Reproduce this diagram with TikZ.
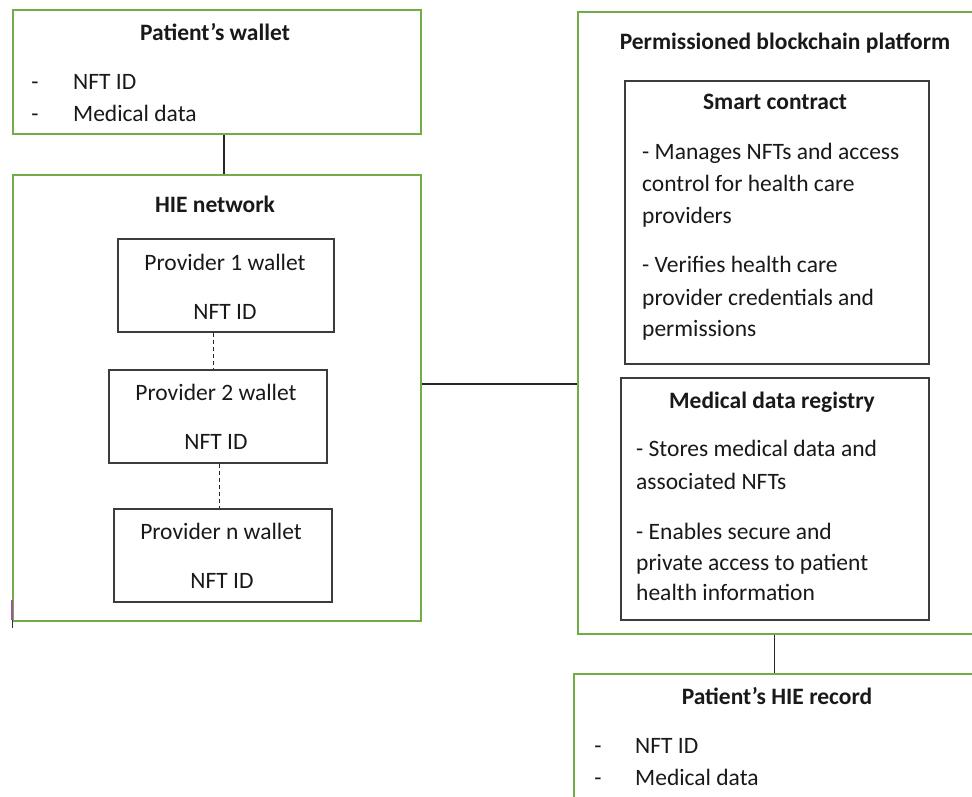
\documentclass[tikz,border=0pt]{standalone}
\usepackage{fontspec}
\setmainfont{Carlito}
\definecolor{boxgreen}{RGB}{112,173,71}
\definecolor{boxdark}{RGB}{60,60,60}
\definecolor{txt}{RGB}{25,25,25}
\begin{document}
\begin{tikzpicture}[x=1pt,y=-1pt,
  greenbox/.style={draw=boxgreen,line width=1.8pt,fill=none,inner sep=0,anchor=north west},
  darkbox/.style={draw=boxdark,line width=1.6pt,fill=none,inner sep=0,anchor=north west},
  bodytxt/.style={font=\fontsize{23.5}{32}\selectfont,text=txt,inner sep=0},
  titletxt/.style={font=\fontsize{23.5}{32}\selectfont\bfseries,text=txt,inner sep=0},
  link/.style={draw=black!85,line width=1.4pt},
  dlink/.style={draw=black!85,line width=1.3pt,dash pattern=on 4pt off 3pt}]
\useasboundingbox (0,0) rectangle (972,796);
\clip (0,0) rectangle (972,796);
\fill[white] (0,0) rectangle (972,796);

% Patient's wallet
\node[greenbox,minimum width=408,minimum height=124] (pw) at (12,9) {};
\node[titletxt,anchor=base] (pwt) at (215,40) {Patient’s wallet};
\node[bodytxt,anchor=base] (pwd1) at (35,89) {-};
\node[bodytxt,anchor=base west] (pwl1) at (73,89) {NFT ID};
\node[bodytxt,anchor=base] (pwd2) at (35,121) {-};
\node[bodytxt,anchor=base west] (pwl2) at (73,121) {Medical data};

% HIE network
\node[greenbox,minimum width=408,minimum height=446] (hie) at (12,174) {};
\node[titletxt,anchor=base] (hiet) at (215,212) {HIE network};
\draw[violet!70,line width=1.2pt] (12,600) -- (12,620);
\draw[black!80,line width=1pt] (12,620) -- (12,628);

\node[darkbox,minimum width=216,minimum height=93] (p1) at (117,238) {};
\node[bodytxt,anchor=base] (p1a) at (225,270) {Provider 1 wallet};
\node[bodytxt,anchor=base] (p1b) at (225,319) {NFT ID};

\node[darkbox,minimum width=218,minimum height=93] (p2) at (108,369) {};
\node[bodytxt,anchor=base] (p2a) at (216,400) {Provider 2 wallet};
\node[bodytxt,anchor=base] (p2b) at (216,449) {NFT ID};

\node[darkbox,minimum width=218,minimum height=93] (pn) at (113,508) {};
\node[bodytxt,anchor=base] (pna) at (221,539) {Provider n wallet};
\node[bodytxt,anchor=base] (pnb) at (222,588) {NFT ID};

% Platform
\node[greenbox,minimum width=420,minimum height=622] (plat) at (577,11) {};
\node[titletxt,anchor=base] (platt) at (785,49) {Permissioned blockchain platform};

\node[darkbox,minimum width=304,minimum height=283] (sc) at (624,80) {};
\node[titletxt,anchor=base] (sct) at (775,109) {Smart contract};
\node[bodytxt,anchor=base west] (sc1) at (642,159) {- Manages NFTs and access};
\node[bodytxt,anchor=base west] (sc2) at (642,191) {control for health care};
\node[bodytxt,anchor=base west] (sc3) at (642,223) {providers};
\node[bodytxt,anchor=base west] (sc4) at (642,272) {- Verifies health care};
\node[bodytxt,anchor=base west] (sc5) at (642,305) {provider credentials and};
\node[bodytxt,anchor=base west] (sc6) at (642,336) {permissions};

\node[darkbox,minimum width=308,minimum height=242] (reg) at (620,377) {};
\node[titletxt,anchor=base] (regt) at (772,408) {Medical data registry};
\node[bodytxt,anchor=base west] (rg1) at (636,456) {- Stores medical data and};
\node[bodytxt,anchor=base west] (rg2) at (636,489) {associated NFTs};
\node[bodytxt,anchor=base west] (rg3) at (636,539) {- Enables secure and};
\node[bodytxt,anchor=base west] (rg4) at (636,570) {private access to patient};
\node[bodytxt,anchor=base west] (rg5) at (636,600) {health information};

% Patient's HIE record
\node[greenbox,minimum width=420,minimum height=160] (rec) at (573,673) {};
\node[titletxt,anchor=base] (rect) at (777,704) {Patient’s HIE record};
\node[bodytxt,anchor=base] (rcd1) at (598,753) {-};
\node[bodytxt,anchor=base west] (rcl1) at (635,753) {NFT ID};
\node[bodytxt,anchor=base] (rcd2) at (598,785) {-};
\node[bodytxt,anchor=base west] (rcl2) at (635,785) {Medical data};

% connectors
\coordinate (cx1) at (224,0);
\coordinate (cy1) at (0,384);
\coordinate (cx2) at (774,0);
\draw[link] (pw.south -| cx1) -- (hie.north -| cx1);
\draw[link] (hie.east |- cy1) -- (plat.west |- cy1);
\draw[link,line width=1pt] (plat.south -| cx2) -- (rec.north -| cx2);
\draw[dlink] ([xshift=-12]p1.south) -- ([xshift=-4]p2.north);
\draw[dlink] ([xshift=2]p2.south) -- ([xshift=-3]pn.north);
\end{tikzpicture}
\end{document}
